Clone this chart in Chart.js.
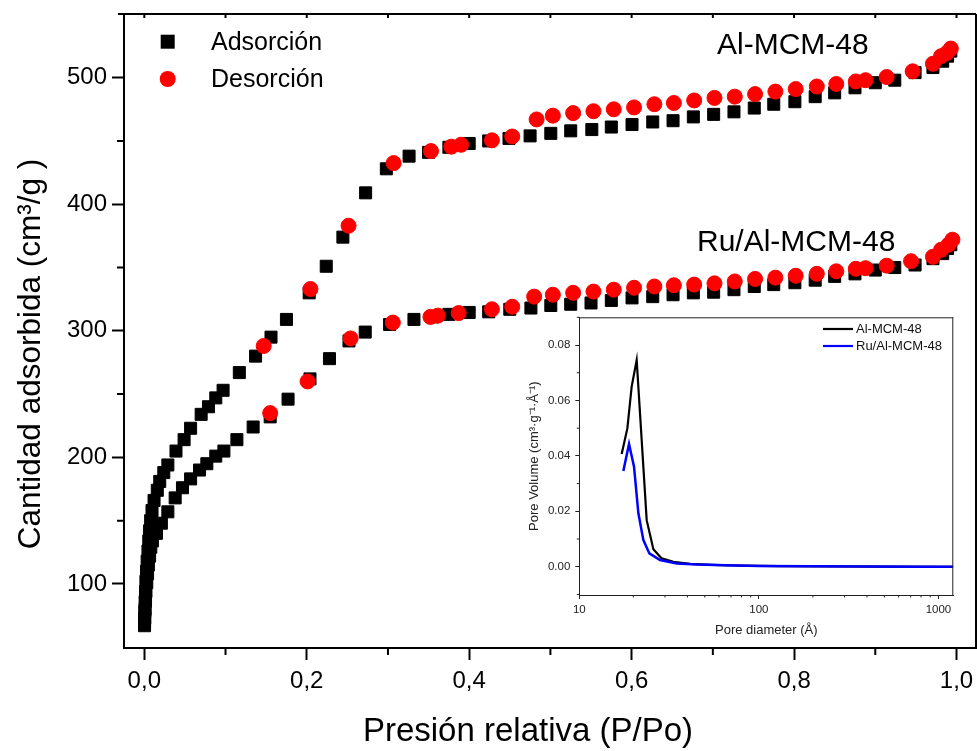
<!DOCTYPE html>
<html><head><meta charset="utf-8">
<script src="https://cdn.jsdelivr.net/npm/chart.js@4.4.1/dist/chart.umd.min.js"></script>
<style>
html,body{margin:0;padding:0;background:#fff;}
#wrap{position:relative;width:977px;height:751px;overflow:hidden;background:#fff;}
#main{position:absolute;left:0;top:0;}
#inset{position:absolute;left:520px;top:300px;}
</style></head><body>
<div id="wrap"><canvas id="main" width="977" height="751"></canvas><canvas id="inset" width="445" height="340"></canvas></div>
<script>
// ---- Main isotherm data (P/Po, cm3/g) ----
const alAdsP = [0.0003,0.0006,0.001,0.0015,0.002,0.0027,0.0035,0.0045,0.0055,0.0065,0.0078,0.0095,0.012,0.016,0.019,0.024,0.029,0.039,0.049,0.057,0.070,0.079,0.088,0.097,0.117,0.137,0.156,0.175,0.203,0.224,0.2445,0.2725,0.298,0.326,0.350,0.375,0.400,0.424,0.449,0.475,0.5005,0.525,0.551,0.575,0.6005,0.626,0.651,0.676,0.701,0.726,0.751,0.775,0.801,0.826,0.850,0.875,0.900,0.924,0.949,0.971,0.983,0.989,0.993];
const alAdsV = [70,78,86,94,102,110,118,126,134,142,150,158,166,174,181,188,194,205,214,223,234,240,247,253,267,280,295,309,330,351,374,409,428,438,441,445,448,450,452,454,456,458,459,461,463,465,466,469,471,473,476,479,481,485,488,492,496,498,504,508,513,517,521];
const alDesP = [0.993,0.988,0.981,0.971,0.946,0.914,0.888,0.876,0.852,0.828,0.802,0.777,0.752,0.727,0.702,0.677,0.652,0.628,0.603,0.578,0.553,0.528,0.503,0.483,0.453,0.428,0.390,0.378,0.353,0.307,0.2515,0.2046,0.147];
const alDesV = [523,519.5,517,511,505,500.5,498,497,495,493,491,489,487,485,484,482,480,479,476.5,475,473.5,472,470,467,453.5,450.5,447,445.5,442,432.5,383,333,288];
const ruAdsP = [0.0003,0.0006,0.001,0.0015,0.002,0.003,0.004,0.005,0.0065,0.008,0.010,0.015,0.021,0.029,0.038,0.047,0.057,0.068,0.077,0.088,0.098,0.114,0.134,0.155,0.177,0.204,0.228,0.252,0.272,0.302,0.332,0.355,0.375,0.400,0.424,0.450,0.476,0.5005,0.525,0.550,0.575,0.6005,0.626,0.651,0.676,0.701,0.726,0.751,0.775,0.801,0.826,0.850,0.875,0.900,0.924,0.949,0.971,0.983,0.989,0.993];
const ruAdsV = [67,73,80,87,94,101,108,115,122,129,134,140,148,157,168,176,183,190,195,201,205,214,224,232,246,262,278,292,299,305,309,311,313,314.5,315,317,318,320,321,322,324,326,327,328.5,330,330.5,332.5,335,336.5,338,340,343,345,348,350,352,357,361,365,368];
const ruDesP = [0.995,0.99,0.981,0.971,0.944,0.914,0.888,0.876,0.852,0.828,0.802,0.777,0.752,0.727,0.702,0.677,0.652,0.628,0.603,0.578,0.553,0.528,0.503,0.480,0.453,0.428,0.387,0.3614,0.3523,0.306,0.254,0.201,0.155];
const ruDesV = [372,368,364,358.5,355,351.5,349.5,349,347,345,343.5,342,341,339,337.5,336.5,336,335,334,332.5,331,330,328.5,327,319,317,314,312,311,306.5,294,260,235];

// ---- Inset pore size distribution data (Å, cm3/g/Å) ----
const poreAlD = [17.22,18.52,19.57,20.87,23.73,25.85,28.76,33.41,41.4,55,80,130,250,500,1210];
const poreAlV = [0.0407,0.0499,0.0650,0.0746,0.0168,0.0063,0.0030,0.0018,0.0010,0.0007,0.0004,0.0002,0.0001,0.00005,0.0];
const poreRuD = [17.59,18.92,20.17,21.33,22.74,24.55,28.16,34.85,45,65,100,200,400,800,1210];
const poreRuV = [0.0345,0.0443,0.0361,0.0193,0.0096,0.0048,0.0024,0.0012,0.0008,0.0005,0.0003,0.00015,0.00008,0.00003,0.0];

// ---- Ticks and labels ----
const xMajorTicks = [0,0.2,0.4,0.6,0.8,1.0];
const xMinorTicks = [0.1,0.3,0.5,0.7,0.9];
const yMajorTicks = [100,200,300,400,500];
const yMinorTicks = [150,250,350,450];
const insetXMajor = [10,100,1000];
const insetXMinor = [20,30,40,50,60,70,80,90,200,300,400,500,600,700,800,900];
const insetYMajor = [0,0.02,0.04,0.06,0.08];
const insetYMinor = [-0.01,0.01,0.03,0.05,0.07,0.09];
const legendLabels = ['Adsorción','Desorción'];
const sampleLabels = ['Al-MCM-48','Ru/Al-MCM-48'];
const axisTitles = ['Presión relativa (P/Po)','Cantidad adsorbida (cm³/g )'];

const FONT = "'Liberation Sans', Arial, Helvetica, sans-serif";
const zip = (xs, ys) => xs.map((x, i) => ({x: x, y: ys[i]}));
const setTicks = vals => s => { s.ticks = vals.map(v => ({value: v})); };

const mainDeco = {
  id: 'mainDeco',
  afterDraw(chart) {
    const ctx = chart.ctx, a = chart.chartArea;
    const xs = chart.scales.x, ys = chart.scales.y;
    ctx.save();
    ctx.strokeStyle = '#000'; ctx.lineWidth = 2;
    ctx.beginPath();
    ctx.moveTo(a.left - 6, a.top); ctx.lineTo(a.right, a.top);
    ctx.moveTo(a.right, a.top); ctx.lineTo(a.right, a.bottom);
    ctx.stroke();
    ctx.beginPath();
    xMinorTicks.forEach(v => { const p = xs.getPixelForValue(v); ctx.moveTo(p, a.bottom); ctx.lineTo(p, a.bottom + 7); });
    yMinorTicks.forEach(v => { const p = ys.getPixelForValue(v); ctx.moveTo(a.left, p); ctx.lineTo(a.left - 7, p); });
    xMajorTicks.concat(xMinorTicks).forEach(v => { const p = xs.getPixelForValue(v); ctx.moveTo(p, a.top); ctx.lineTo(p, a.top + 4); });
    ctx.stroke();
    // legend
    ctx.fillStyle = '#000';
    ctx.fillRect(167.7 - 7, 41.7 - 7, 14, 14);
    ctx.fillStyle = '#ff0000';
    ctx.beginPath(); ctx.arc(167.7, 79, 8, 0, Math.PI * 2); ctx.fill();
    ctx.fillStyle = '#000';
    ctx.textBaseline = 'middle'; ctx.textAlign = 'left';
    ctx.font = '25px ' + FONT;
    ctx.fillText(legendLabels[0], 211, 43);
    ctx.fillText(legendLabels[1], 211, 80);
    ctx.font = '30px ' + FONT;
    ctx.fillText(sampleLabels[0], 717, 46);
    ctx.fillText(sampleLabels[1], 697, 243);
    // axis titles
    ctx.textAlign = 'center';
    ctx.font = '33px ' + FONT;
    ctx.fillText(axisTitles[0], 528, 732);
    ctx.save();
    ctx.translate(31, 354); ctx.rotate(-Math.PI / 2);
    ctx.font = '31.5px ' + FONT;
    ctx.fillText(axisTitles[1], 0, 0);
    ctx.restore();
    ctx.restore();
  }
};

new Chart(document.getElementById('main'), {
  type: 'scatter',
  data: { datasets: [
    {label: 'Al-MCM-48 desorción', data: zip(alDesP, alDesV), pointStyle: 'circle', pointRadius: 7.5, backgroundColor: '#ff0000', borderColor: '#ff0000', borderWidth: 1, order: 0},
    {label: 'Ru/Al-MCM-48 desorción', data: zip(ruDesP, ruDesV), pointStyle: 'circle', pointRadius: 7.5, backgroundColor: '#ff0000', borderColor: '#ff0000', borderWidth: 1, order: 0},
    {label: 'Al-MCM-48 adsorción', data: zip(alAdsP, alAdsV), pointStyle: 'rect', pointRadius: 8.5, backgroundColor: '#000', borderColor: '#000', borderWidth: 1, order: 1},
    {label: 'Ru/Al-MCM-48 adsorción', data: zip(ruAdsP, ruAdsV), pointStyle: 'rect', pointRadius: 8.5, backgroundColor: '#000', borderColor: '#000', borderWidth: 1, order: 1}
  ]},
  options: {
    responsive: false, animation: false, devicePixelRatio: 1,
    layout: {autoPadding: false, padding: {top: 14, left: 0, right: 1, bottom: 0}},
    plugins: {legend: {display: false}, tooltip: {enabled: false}},
    scales: {
      x: {
        type: 'linear', min: -0.025, max: 1.024,
        afterBuildTicks: setTicks(xMajorTicks),
        afterFit: s => { s.height = 103; s.paddingLeft = 0; s.paddingRight = 0; },
        ticks: {padding: 7, color: '#000', font: {family: FONT, size: 24}, maxRotation: 0, autoSkip: false,
          callback: v => v.toFixed(1).replace('.', ',')},
        grid: {drawOnChartArea: false, drawTicks: true, tickLength: 12, tickWidth: 2, tickColor: '#000'},
        border: {display: true, color: '#000', width: 2},
        title: {display: false}
      },
      y: {
        type: 'linear', min: 49.4, max: 550.3,
        afterBuildTicks: setTicks(yMajorTicks),
        afterFit: s => { s.width = 124; s.paddingTop = 0; s.paddingBottom = 0; },
        ticks: {padding: 5, color: '#000', font: {family: FONT, size: 24}, autoSkip: false, callback: v => String(v)},
        grid: {drawOnChartArea: false, drawTicks: true, tickLength: 12, tickWidth: 2, tickColor: '#000'},
        border: {display: true, color: '#000', width: 2},
        title: {display: false}
      }
    }
  },
  plugins: [mainDeco]
});

const insetDeco = {
  id: 'insetDeco',
  afterDraw(chart) {
    const ctx = chart.ctx, a = chart.chartArea;
    const xs = chart.scales.x, ys = chart.scales.y;
    ctx.save();
    ctx.strokeStyle = '#222'; ctx.lineWidth = 1;
    ctx.beginPath();
    ctx.moveTo(a.left, a.top + 0.5); ctx.lineTo(a.right, a.top + 0.5);
    ctx.moveTo(a.right - 0.5, a.top); ctx.lineTo(a.right - 0.5, a.bottom);
    insetXMinor.forEach(v => { const p = xs.getPixelForValue(v); ctx.moveTo(p, a.bottom); ctx.lineTo(p, a.bottom + 2.5); });
    insetYMinor.forEach(v => { const p = ys.getPixelForValue(v); ctx.moveTo(a.left, p); ctx.lineTo(a.left - 2.5, p); });
    ctx.stroke();
    ctx.lineWidth = 2.2; ctx.strokeStyle = '#000';
    ctx.beginPath(); ctx.moveTo(303, 29); ctx.lineTo(333, 29); ctx.stroke();
    ctx.strokeStyle = '#0000ff';
    ctx.beginPath(); ctx.moveTo(303, 46); ctx.lineTo(333, 46); ctx.stroke();
    ctx.fillStyle = '#111'; ctx.textBaseline = 'middle'; ctx.textAlign = 'left';
    ctx.font = '13px ' + FONT;
    ctx.fillText(sampleLabels[0], 336, 29);
    ctx.fillText(sampleLabels[1], 336, 46);
    ctx.restore();
  }
};

new Chart(document.getElementById('inset'), {
  type: 'scatter',
  data: { datasets: [
    {label: sampleLabels[1], data: zip(poreRuD, poreRuV), showLine: true, borderColor: '#0000ff', borderWidth: 2.5, pointRadius: 0, tension: 0, fill: false, order: 0},
    {label: sampleLabels[0], data: zip(poreAlD, poreAlV), showLine: true, borderColor: '#000', borderWidth: 2.2, pointRadius: 0, tension: 0, fill: false, order: 1}
  ]},
  options: {
    responsive: false, animation: false, devicePixelRatio: 1,
    layout: {autoPadding: false, padding: {top: 17.3, left: 0, right: 11.7, bottom: 0}},
    plugins: {legend: {display: false}, tooltip: {enabled: false}},
    scales: {
      x: {
        type: 'logarithmic', min: 10, max: 1210,
        afterBuildTicks: setTicks(insetXMajor),
        afterFit: s => { s.height = 45; s.paddingLeft = 0; s.paddingRight = 0; },
        ticks: {padding: 3.5, color: '#222', font: {family: FONT, size: 11.5}, maxRotation: 0, autoSkip: false, callback: v => String(v)},
        grid: {drawOnChartArea: false, drawTicks: true, tickLength: 4, tickWidth: 1, tickColor: '#222'},
        border: {display: true, color: '#222', width: 1},
        title: {display: true, text: 'Pore diameter (Å)', color: '#222', font: {family: FONT, size: 13}, padding: {top: 0, bottom: 1.5}}
      },
      y: {
        type: 'linear', min: -0.0102, max: 0.09,
        afterBuildTicks: setTicks(insetYMajor),
        afterFit: s => { s.width = 59.3; s.paddingTop = 0; s.paddingBottom = 0; },
        ticks: {padding: 5, color: '#222', font: {family: FONT, size: 11.5}, autoSkip: false, callback: v => v.toFixed(2)},
        grid: {drawOnChartArea: false, drawTicks: true, tickLength: 4, tickWidth: 1, tickColor: '#222'},
        border: {display: true, color: '#222', width: 1},
        title: {display: true, text: 'Pore Volume (cm³·g⁻¹·Å⁻¹)', color: '#222', font: {family: FONT, size: 13}, padding: {top: 7, bottom: 0}}
      }
    }
  },
  plugins: [insetDeco]
});
</script>
</body></html>
